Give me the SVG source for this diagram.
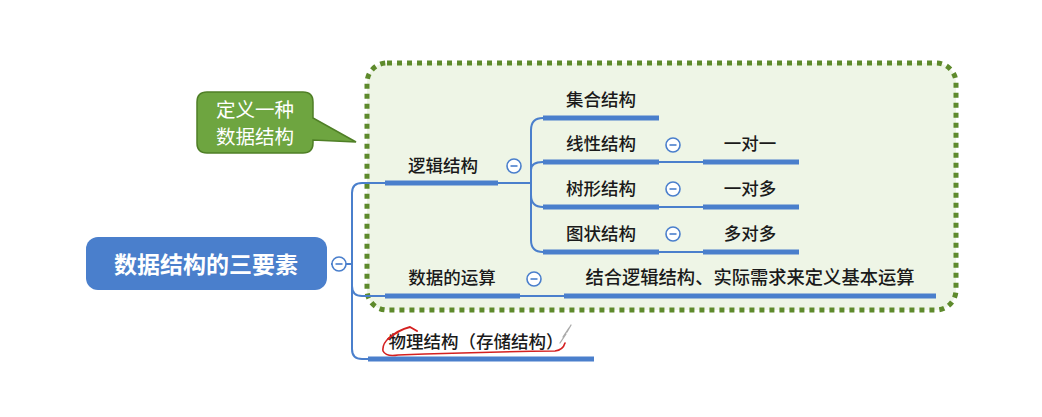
<svg xmlns="http://www.w3.org/2000/svg" width="1042" height="417" viewBox="0 0 1042 417">
  <style>
    .t { font-family: "Noto Sans CJK SC", "Noto Sans", sans-serif; font-size: 17.5px; font-weight: 500; fill: #1a1a1a; text-anchor: middle; }
    .ul { stroke: #4a7fcc; stroke-width: 5; fill: none; }
    .ln { stroke: #4a7fcc; stroke-width: 2; fill: none; }
    .btn { fill: #ffffff; stroke: #4a7fcc; stroke-width: 1.6; }
    .btn-bar { stroke: #4a7fcc; stroke-width: 1.6; }
  </style>
  <defs>
    <g id="collapse">
      <circle r="7" class="btn"/>
      <line x1="-3.5" y1="0" x2="3.5" y2="0" class="btn-bar"/>
    </g>
  </defs>
  <rect width="1042" height="417" fill="#ffffff"/>

  <!-- boundary around the logical structure and operations -->
  <g id="boundary">
    <rect x="367" y="63" width="589" height="247" rx="20" fill="#eef5e6" stroke="#5e8a2c" stroke-width="5" stroke-dasharray="5 5"/>
  </g>

  <!-- callout -->
  <g id="callout">
    <path d="M207,92 H303 Q313,92 313,102 V118 L356,142 L313,140 V143 Q313,153 303,153 H207 Q197,153 197,143 V102 Q197,92 207,92 Z" fill="#6ea540" stroke="#4f7f26" stroke-width="1.5"/>
    <text x="255" y="117" class="t" style="fill:#ffffff;font-size:19.5px;font-weight:normal">定义一种</text>
    <text x="255" y="144" class="t" style="fill:#ffffff;font-size:19.5px;font-weight:normal">数据结构</text>
  </g>

  <!-- connectors -->
  <g id="connectors">
    <line x1="331" y1="264" x2="352" y2="264" class="ln"/>
    <path d="M385,183 H362 Q352,183 352,193 V349 Q352,359 362,359 H368" class="ln"/>
    <path d="M352,286 Q352,296 362,296 H385" class="ln"/>
    <line x1="498" y1="183" x2="531" y2="183" class="ln"/>
    <path d="M543,118 Q531,118 531,130 V240 Q531,252 543,252" class="ln"/>
    <path d="M531,170 Q531,162 543,162" class="ln"/>
    <path d="M531,195 Q531,207 543,207" class="ln"/>
    <line x1="659" y1="162" x2="703" y2="162" class="ln"/>
    <line x1="659" y1="207" x2="703" y2="207" class="ln"/>
    <line x1="659" y1="252" x2="703" y2="252" class="ln"/>
    <line x1="520" y1="296" x2="564" y2="296" class="ln"/>
  </g>

  <!-- root -->
  <g id="root">
    <rect x="86" y="237" width="241" height="53" rx="12" fill="#4a7fcc"/>
    <text x="206" y="273" class="t" style="fill:#ffffff;font-size:23px;font-weight:bold">数据结构的三要素</text>
    <use href="#collapse" x="339" y="264"/>
  </g>

  <g id="logical">
    <line x1="385" y1="183" x2="498" y2="183" class="ul"/>
    <text x="443" y="172" class="t">逻辑结构</text>
    <use href="#collapse" x="514" y="166"/>
  </g>

  <g id="set">
    <line x1="543" y1="118" x2="659" y2="118" class="ul"/>
    <text x="601" y="106" class="t">集合结构</text>
  </g>

  <g id="linear">
    <line x1="543" y1="162" x2="659" y2="162" class="ul"/>
    <text x="601" y="150" class="t">线性结构</text>
    <use href="#collapse" x="673" y="145"/>
  </g>
  <g id="one-to-one">
    <line x1="703" y1="162" x2="799" y2="162" class="ul"/>
    <text x="750" y="150" class="t">一对一</text>
  </g>

  <g id="tree">
    <line x1="543" y1="207" x2="659" y2="207" class="ul"/>
    <text x="601" y="195" class="t">树形结构</text>
    <use href="#collapse" x="673" y="189"/>
  </g>
  <g id="one-to-many">
    <line x1="703" y1="207" x2="799" y2="207" class="ul"/>
    <text x="750" y="195" class="t">一对多</text>
  </g>

  <g id="graph">
    <line x1="543" y1="252" x2="659" y2="252" class="ul"/>
    <text x="601" y="240" class="t">图状结构</text>
    <use href="#collapse" x="673" y="234"/>
  </g>
  <g id="many-to-many">
    <line x1="703" y1="252" x2="799" y2="252" class="ul"/>
    <text x="750" y="240" class="t">多对多</text>
  </g>

  <g id="operations">
    <line x1="385" y1="296" x2="520" y2="296" class="ul"/>
    <text x="452" y="284" class="t">数据的运算</text>
    <use href="#collapse" x="534" y="279"/>
  </g>
  <g id="operations-detail">
    <line x1="564" y1="296" x2="936" y2="296" class="ul"/>
    <text x="750" y="284" class="t" style="font-size:18.3px">结合逻辑结构、实际需求来定义基本运算</text>
  </g>

  <g id="physical">
    <line x1="368" y1="359" x2="594" y2="359" class="ul"/>
    <text x="476" y="348" class="t">物理结构（存储结构）</text>
  </g>

  <!-- hand-drawn pen marks -->
  <g id="pen-marks" fill="none" stroke-linecap="round" stroke-linejoin="round">
    <path d="M388,339 Q398,330 410,327 L417,331" stroke="#d42020" stroke-width="2"/>
    <path d="M389,338 Q382,344 383,351 Q386,357 398,355 Q470,352 555,351 Q563,350 565,343" stroke="#d42020" stroke-width="1.6"/>
    <path d="M560,343 L566,334 M563,337 L569,328 M567,332 L571,325" stroke="#aaaaaa" stroke-width="1.3"/>
  </g>
</svg>
